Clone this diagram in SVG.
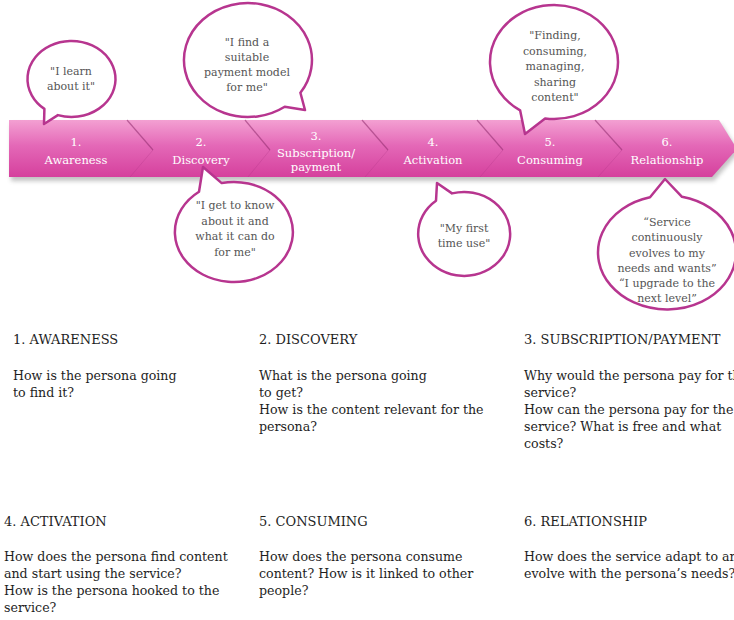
<svg xmlns="http://www.w3.org/2000/svg" width="734" height="620" viewBox="0 0 734 620">
  <defs>
    <linearGradient id="bandFill" x1="0" y1="0" x2="0" y2="1">
      <stop offset="0" stop-color="#f3a0d2"/>
      <stop offset="0.45" stop-color="#e468b7"/>
      <stop offset="1" stop-color="#d5409d"/>
    </linearGradient>
    <filter id="soft" x="-5%" y="-20%" width="110%" height="160%">
      <feGaussianBlur stdDeviation="2"/>
    </filter>
  </defs>
  <style>
    text { font-family: "DejaVu Serif", Georgia, serif; }
    .bubble { fill: #ffffff; stroke: #b7358f; stroke-width: 2.5; stroke-linejoin: round; }
    .quote { font-size: 11px; fill: #555555; text-anchor: middle; }
    .stage { font-size: 11.5px; fill: #ffffff; text-anchor: middle; }
    .divTop { stroke: #8e2a6c; stroke-opacity: 0.55; stroke-width: 1.2; fill: none; }
    .divBot { stroke: #a8307f; stroke-opacity: 0.25; stroke-width: 1; fill: none; }
    .head { font-size: 13px; fill: #1e1e1e; }
    .body { font-size: 12.6px; fill: #1e1e1e; }
  </style>

  <rect width="734" height="620" fill="#ffffff"/>

  <!-- journey band -->
  <g id="band">
    <path d="M11 124 L721 124 L739 152 L714 181 L11 181 Z" fill="#7a7a7a" opacity="0.45" filter="url(#soft)"/>
    <path d="M9 120 L719 120 L737 149 L712 177 L9 177 Z" fill="url(#bandFill)"/>
    <g>
      <path class="divTop" d="M127 120 L153 150"/>
      <path class="divBot" d="M153 150 L130 177"/>
      <path class="divTop" d="M245 120 L270 150"/>
      <path class="divBot" d="M270 150 L248 177"/>
      <path class="divTop" d="M362 120 L388 150"/>
      <path class="divBot" d="M388 150 L365 177"/>
      <path class="divTop" d="M477 120 L503 150"/>
      <path class="divBot" d="M503 150 L480 177"/>
      <path class="divTop" d="M595 120 L622 150"/>
      <path class="divBot" d="M622 150 L598 177"/>
    </g>
  </g>

  <!-- stage labels -->
  <g id="stage-1"><text class="stage" x="76" y="145.5">1.</text><text class="stage" x="76" y="164">Awareness</text></g>
  <g id="stage-2"><text class="stage" x="201" y="145.5">2.</text><text class="stage" x="201" y="164">Discovery</text></g>
  <g id="stage-3"><text class="stage" x="316" y="139.5">3.</text><text class="stage" x="316" y="156.5">Subscription/</text><text class="stage" x="316" y="170.5">payment</text></g>
  <g id="stage-4"><text class="stage" x="433" y="145.5">4.</text><text class="stage" x="433" y="164">Activation</text></g>
  <g id="stage-5"><text class="stage" x="550" y="145.5">5.</text><text class="stage" x="550" y="164">Consuming</text></g>
  <g id="stage-6"><text class="stage" x="667" y="145.5">6.</text><text class="stage" x="667" y="164">Relationship</text></g>

  <!-- speech bubbles -->
  <g id="bubble-awareness">
    <path class="bubble" d="M57.9 115.1 L44 124 L44.4 108.9 A44 38 0 1 1 57.9 115.1 Z"/>
    <text class="quote" x="71" y="75">"I learn</text>
    <text class="quote" x="71" y="89.5">about it"</text>
  </g>
  <g id="bubble-subscription">
    <path class="bubble" d="M300.4 92.7 L305 110 L284.7 106.7 A64 57 0 1 1 300.4 92.7 Z"/>
    <text class="quote" x="247" y="46">"I find a</text>
    <text class="quote" x="247" y="61">suitable</text>
    <text class="quote" x="247" y="76">payment model</text>
    <text class="quote" x="247" y="91">for me"</text>
  </g>
  <g id="bubble-consuming">
    <path class="bubble" d="M545.1 118.4 L525 134 L520.1 110.3 A64 57 0 1 1 545.1 118.4 Z"/>
    <text class="quote" x="555" y="39">"Finding,</text>
    <text class="quote" x="555" y="54.5">consuming,</text>
    <text class="quote" x="555" y="70">managing,</text>
    <text class="quote" x="555" y="85.5">sharing</text>
    <text class="quote" x="555" y="101">content"</text>
  </g>
  <g id="bubble-discovery">
    <path class="bubble" d="M199 191.7 L203 167 L221.7 183.1 A59 50 0 1 1 199 191.7 Z"/>
    <text class="quote" x="235" y="209">"I get to know</text>
    <text class="quote" x="235" y="224.5">about it and</text>
    <text class="quote" x="235" y="240">what it can do</text>
    <text class="quote" x="235" y="255.5">for me"</text>
  </g>
  <g id="bubble-activation">
    <path class="bubble" d="M436 200.7 L437 183 L452 193.4 A46 42 0 1 1 436 200.7 Z"/>
    <text class="quote" x="464" y="232">"My first</text>
    <text class="quote" x="464" y="247">time use"</text>
  </g>
  <g id="bubble-relationship">
    <path class="bubble" d="M650 197.2 L665 179 L682 196.8 A69 57 0 1 1 650 197.2 Z"/>
    <text class="quote" x="667" y="226">“Service</text>
    <text class="quote" x="667" y="241">continuously</text>
    <text class="quote" x="667" y="256.5">evolves to my</text>
    <text class="quote" x="667" y="271.5">needs and wants”</text>
    <text class="quote" x="667" y="286.5">“I upgrade to the</text>
    <text class="quote" x="667" y="301.5">next level”</text>
  </g>

  <!-- stage descriptions -->
  <g id="desc-awareness">
    <text class="head" x="13" y="344">1. AWARENESS</text>
    <text class="body" x="13" y="379.5">How is the persona going</text>
    <text class="body" x="13" y="396.5">to find it?</text>
  </g>
  <g id="desc-discovery">
    <text class="head" x="259" y="344">2. DISCOVERY</text>
    <text class="body" x="259" y="379.5">What is the persona going</text>
    <text class="body" x="259" y="396.5">to get?</text>
    <text class="body" x="259" y="413.5">How is the content relevant for the</text>
    <text class="body" x="259" y="430.5">persona?</text>
  </g>
  <g id="desc-subscription">
    <text class="head" x="524" y="344">3. SUBSCRIPTION/PAYMENT</text>
    <text class="body" x="524" y="379.5">Why would the persona pay for the</text>
    <text class="body" x="524" y="396.5">service?</text>
    <text class="body" x="524" y="413.5">How can the persona pay for the</text>
    <text class="body" x="524" y="430.5">service? What is free and what</text>
    <text class="body" x="524" y="447.5">costs?</text>
  </g>
  <g id="desc-activation">
    <text class="head" x="4" y="526">4. ACTIVATION</text>
    <text class="body" x="4" y="561">How does the persona find content</text>
    <text class="body" x="4" y="578">and start using the service?</text>
    <text class="body" x="4" y="595">How is the persona hooked to the</text>
    <text class="body" x="4" y="612">service?</text>
  </g>
  <g id="desc-consuming">
    <text class="head" x="259" y="526">5. CONSUMING</text>
    <text class="body" x="259" y="561">How does the persona consume</text>
    <text class="body" x="259" y="578">content? How is it linked to other</text>
    <text class="body" x="259" y="595">people?</text>
  </g>
  <g id="desc-relationship">
    <text class="head" x="524" y="526">6. RELATIONSHIP</text>
    <text class="body" x="524" y="561">How does the service adapt to and</text>
    <text class="body" x="524" y="578">evolve with the persona’s needs?</text>
  </g>
</svg>
